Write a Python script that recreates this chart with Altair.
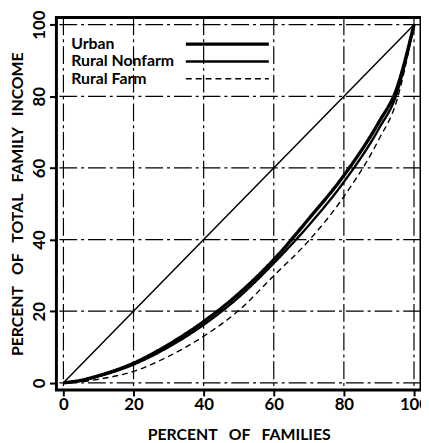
import altair as alt
import pandas as pd

pct_families = [0, 5, 10, 20, 30, 40, 50, 60, 70, 80, 90, 95, 100]
urban = [0, 0.7, 2.0, 5.5, 10.7, 17.1, 24.9, 34.4, 45.8, 57.9, 72.8, 82.0, 100]
rural_nonfarm = [0, 0.6, 1.8, 5.1, 10.0, 16.2, 23.9, 33.4, 44.0, 56.1, 71.0, 80.5, 100]
rural_farm = [0, 0.3, 1.0, 3.2, 7.4, 13.0, 20.2, 29.9, 39.7, 52.0, 68.0, 78.5, 100]
series_names = ["Urban", "Rural Nonfarm", "Rural Farm"]
equality_x = [0, 100]
equality_y = [0, 100]
grid_values = [0, 20, 40, 60, 80, 100]
tick_values = [0, 10, 20, 30, 40, 50, 60, 70, 80, 90, 100]

rows = []
for name, vals in zip(series_names, [urban, rural_nonfarm, rural_farm]):
    for x, y in zip(pct_families, vals):
        rows.append({"series": name, "x": x, "y": y})
df = pd.DataFrame(rows)
eq = pd.DataFrame({"x": equality_x, "y": equality_y})
grid = pd.DataFrame({"v": grid_values})

FONT = "Lato"
SP = "\u00a0\u00a0 "
xs = alt.Scale(domain=[-2, 102], nice=False, zero=False)
ys = alt.Scale(domain=[-2, 102], nice=False, zero=False)

xaxis = alt.Axis(values=tick_values, labelExpr="datum.value % 20 == 0 ? datum.label : ''",
                 grid=False, domain=False, tickSize=6, tickWidth=2, tickColor="black",
                 labelFont=FONT, labelFontSize=17, labelFontWeight="bold", labelColor="black",
                 labelPadding=1, title=SP.join(["PERCENT", "OF", "FAMILIES"]), titleFont=FONT,
                 titleFontSize=16, titleFontWeight="bold", titleColor="black", titlePadding=14)
yaxis = alt.Axis(values=tick_values, labelExpr="datum.value % 20 == 0 ? datum.label : ''",
                 grid=False, domain=False, tickSize=7, tickWidth=2, tickColor="black",
                 labelAngle=270, labelFont=FONT, labelFontSize=17, labelFontWeight="bold",
                 labelColor="black", labelPadding=10, labelBaseline="middle", labelAlign="center",
                 title=SP.join(["PERCENT", "OF", "TOTAL", "FAMILY", "INCOME"]), titleFont=FONT,
                 titleFontSize=16, titleFontWeight="bold", titleColor="black", titlePadding=5)

vgrid = alt.Chart(grid).mark_rule(color="black", strokeWidth=1.2, strokeDash=[18, 4, 3, 4]).encode(
    x=alt.X("v:Q", scale=xs, axis=xaxis))
hgrid = alt.Chart(grid).mark_rule(color="black", strokeWidth=1.2, strokeDash=[18, 4, 3, 4]).encode(
    y=alt.Y("v:Q", scale=ys, axis=yaxis))

diag = alt.Chart(eq).mark_line(color="black", strokeWidth=1.5).encode(
    x=alt.X("x:Q", scale=xs), y=alt.Y("y:Q", scale=ys))

curves = alt.Chart(df).mark_line(color="black", interpolate="monotone").encode(
    x=alt.X("x:Q", scale=xs),
    y=alt.Y("y:Q", scale=ys),
    detail="series:N",
    strokeDash=alt.StrokeDash("series:N",
        scale=alt.Scale(domain=series_names, range=[[1, 0], [1, 0], [6, 4]]),
        legend=alt.Legend(title=None, orient="none", legendX=15, legendY=19,
                          symbolType="M 0 0 H 42", symbolSize=16, symbolStrokeColor="black",
                          symbolOffset=108, labelOffset={"expr": "-124"},
                          rowPadding=1.5,
                          labelFont=FONT, labelFontSize=16, labelFontWeight="bold",
                          labelColor="black")),
    strokeWidth=alt.StrokeWidth("series:N",
        scale=alt.Scale(domain=series_names, range=[3.4, 1.4, 1.5]), legend=None),
)

chart = alt.layer(vgrid, hgrid, diag, curves).properties(
    width=369, height=377,
    autosize=alt.AutoSizeParams(type="none"),
    padding={"left": 49, "top": 7, "right": 0, "bottom": 50},
).configure_view(stroke="black", strokeWidth=3)

chart.save("out.html", embed_options={"renderer": "svg", "actions": False})
